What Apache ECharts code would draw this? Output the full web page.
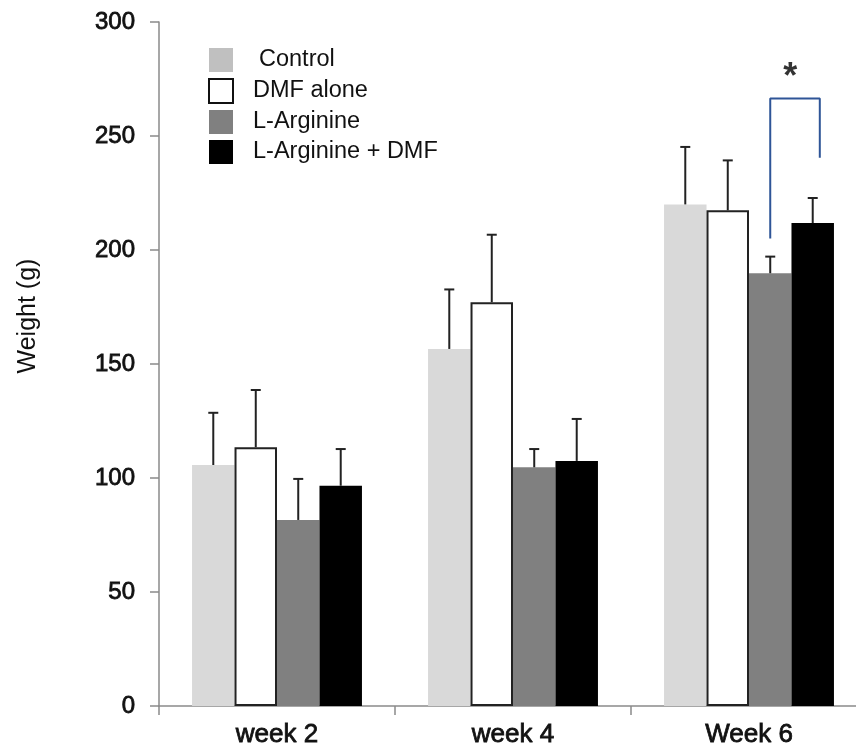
<!DOCTYPE html>
<html>
<head>
<meta charset="utf-8">
<script src="https://cdn.jsdelivr.net/npm/echarts@6/dist/echarts.min.js"></script>
<style>
html,body{margin:0;padding:0;background:#fff;}
#c{width:856px;height:749px;}
</style>
</head>
<body>
<div id="c"></div>
<script>
// ---- data ----
var categories = ['week 2', 'week 4', 'Week 6'];
var seriesNames = ['Control', 'DMF alone', 'L-Arginine', 'L-Arginine + DMF'];
var controlMean = [105.7, 156.6, 220.0];
var controlErrTop = [128.6, 182.7, 245.2];
var dmfMean = [113.5, 177.1, 217.4];
var dmfErrTop = [138.6, 206.7, 239.3];
var argMean = [81.6, 104.7, 189.8];
var argErrTop = [99.6, 112.7, 197.1];
var argDmfMean = [96.6, 107.5, 211.8];
var argDmfErrTop = [112.7, 125.9, 222.8];
var yTicks = {min: 0, max: 300, interval: 50};
// significance bracket (x in category units on a 0..3 scale)
var bracketX = [2.59, 2.80];
var bracketY = [205, 266.5, 240.5];
var starPoint = [2.675, 275.5];

var means = [controlMean, dmfMean, argMean, argDmfMean];
var errTops = [controlErrTop, dmfErrTop, argErrTop, argDmfErrTop];
var colors = ['#d9d9d9', '#ffffff', '#808080', '#000000'];
var legendColors = ['#c0c0c0', '#ffffff', '#808080', '#000000'];
var BAR_FRAC = 0.18;

var errData = [];
for (var s = 0; s < 4; s++) {
  for (var c = 0; c < categories.length; c++) {
    errData.push([c, s, means[s][c], errTops[s][c]]);
  }
}

var chart = echarts.init(document.getElementById('c'), null, {renderer: 'canvas'});
var font = 'Liberation Sans, Arial, sans-serif';
var semiBold = {textBorderColor: '#111', textBorderWidth: 0.8};

var barSeries = seriesNames.map(function (n, i) {
  return {
    name: n,
    type: 'bar',
    xAxisIndex: 0,
    yAxisIndex: 0,
    data: means[i],
    barWidth: (BAR_FRAC * 100) + '%',
    barGap: '0%',
    itemStyle: i === 1 ? {color: '#ffffff', borderColor: '#222', borderWidth: 2}
      : {color: colors[i]},
    emphasis: {disabled: true},
    z: 2
  };
});

var option = {
  animation: false,
  backgroundColor: '#ffffff',
  grid: {left: 159, width: 708, top: 22, bottom: 43, containLabel: false, outerBoundsMode: 'none'},
  legend: {
    orient: 'vertical',
    left: 208,
    top: 48,
    padding: 0,
    itemWidth: 24,
    itemHeight: 24,
    itemGap: 6,
    icon: 'rect',
    selectedMode: false,
    textStyle: {fontFamily: font, fontSize: 23.5, color: '#111', padding: [0, 0, 0, 15], lineHeight: 24},
    data: seriesNames.map(function (n, i) {
      var d = {name: n, itemStyle: {color: legendColors[i], borderRadius: 2}};
      if (i === 1) d.itemStyle = {color: '#fff', borderColor: '#111', borderWidth: 2, borderRadius: 2};
      if (i === 0) d.textStyle = {padding: [0, 0, 0, 21]};
      return d;
    })
  },
  xAxis: [{
    type: 'category',
    data: categories,
    axisLine: {lineStyle: {color: '#8a8a8a', width: 1.5}},
    axisTick: {show: true, length: 9, lineStyle: {color: '#8a8a8a', width: 1.5}},
    axisLabel: Object.assign({fontFamily: font, fontSize: 26, color: '#111', margin: 16}, semiBold),
    splitLine: {show: false}
  }, {
    type: 'value',
    min: 0, max: 3,
    show: false
  }],
  yAxis: [{
    type: 'value',
    min: yTicks.min, max: yTicks.max, interval: yTicks.interval,
    axisLine: {show: true, lineStyle: {color: '#8a8a8a', width: 1.5}},
    axisTick: {show: true, length: 9, lineStyle: {color: '#8a8a8a', width: 1.5}},
    axisLabel: Object.assign({fontFamily: font, fontSize: 24, color: '#111', margin: 24}, semiBold),
    splitLine: {show: false}
  }],
  graphic: [{
    type: 'text',
    x: 28, y: 316,
    rotation: Math.PI / 2,
    style: {text: 'Weight (g)', fontFamily: font, fontSize: 25, fill: '#111', align: 'center', verticalAlign: 'middle'}
  }],
  series: barSeries.concat([{
    type: 'custom',
    name: 'errors',
    xAxisIndex: 0,
    yAxisIndex: 0,
    data: errData,
    z: 5,
    silent: true,
    encode: {x: 0, y: 3},
    renderItem: function (params, api) {
      var cat = api.value(0), s = api.value(1), m = api.value(2), e = api.value(3);
      var band = api.size([1, 0])[0];
      var center = api.coord([cat, m]);
      var x = center[0] + (s - 1.5) * band * BAR_FRAC;
      var yTop = api.coord([cat, e])[1];
      var yBase = center[1];
      var style = {stroke: '#222', lineWidth: 2};
      return {
        type: 'group',
        children: [
          {type: 'line', shape: {x1: x, y1: yBase, x2: x, y2: yTop}, style: style},
          {type: 'line', shape: {x1: x - 5, y1: yTop, x2: x + 5, y2: yTop}, style: style}
        ]
      };
    }
  }, {
    type: 'line',
    name: 'bracket',
    xAxisIndex: 1,
    yAxisIndex: 0,
    data: [[bracketX[0], bracketY[0]], [bracketX[0], bracketY[1]], [bracketX[1], bracketY[1]], [bracketX[1], bracketY[2]]],
    symbol: 'none',
    lineStyle: {color: '#2f5597', width: 2},
    silent: true,
    z: 6
  }, {
    type: 'scatter',
    name: 'star',
    xAxisIndex: 1,
    yAxisIndex: 0,
    data: [starPoint],
    symbolSize: 1,
    itemStyle: {color: 'rgba(0,0,0,0)'},
    label: {show: true, position: 'inside', formatter: '*', fontFamily: font, fontSize: 36, fontWeight: 'bold', color: '#000'},
    silent: true,
    z: 6
  }])
};
chart.setOption(option);
</script>
</body>
</html>
